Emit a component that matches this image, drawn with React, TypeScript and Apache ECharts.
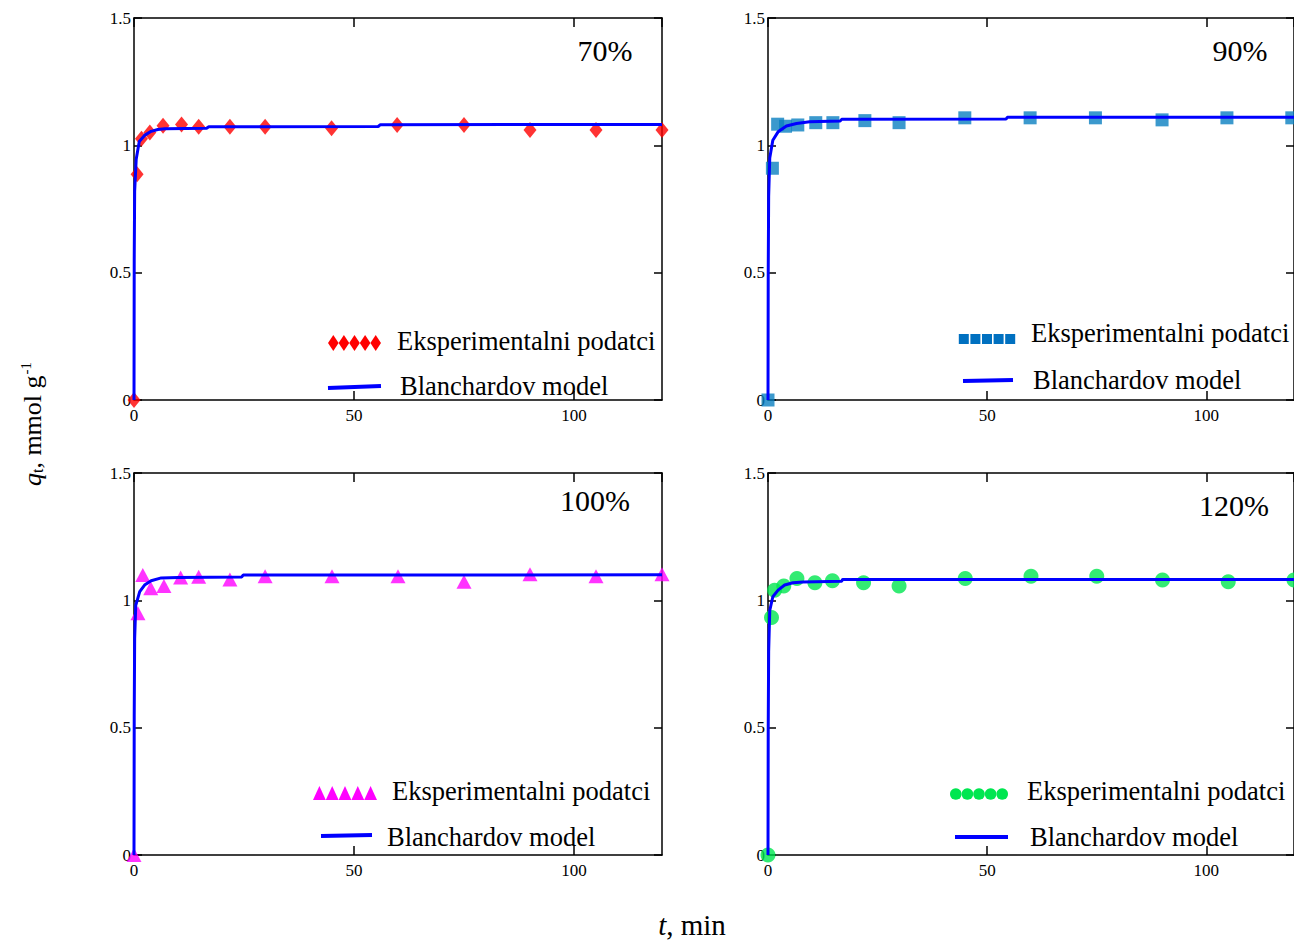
import React, { useEffect, useRef } from "react";
import * as echarts from "echarts";

// ---- Data ----
const panelLabels = ["70%", "90%", "100%", "120%"];
const expName = "Eksperimentalni podatci";
const modelName = "Blanchardov model";
const xTickLabels = ["0", "50", "100"];
const yTickLabels = ["0", "0.5", "1", "1.5"];

// 70 %
const t70 = [0, 0.7, 1.7, 3.6, 6.6, 10.8, 14.7, 21.8, 29.8, 44.9, 59.8, 75, 90, 105, 120];
const q70 = [0, 0.886, 1.026, 1.05, 1.077, 1.082, 1.073, 1.073, 1.073, 1.067, 1.08, 1.08, 1.06, 1.06, 1.06];
const mt70 = [0, 0.05, 0.15, 0.5, 1.2, 2.4, 3.9, 5.4, 7, 16.5, 17, 55.5, 56, 120];
const mq70 = [0, 0.55, 0.82, 0.945, 1.015, 1.039, 1.055, 1.062, 1.065, 1.067, 1.073, 1.074, 1.081, 1.082];

// 90 %
const t90 = [0, 1, 2.2, 4, 6.8, 10.9, 14.8, 22.1, 29.9, 44.9, 59.8, 74.7, 89.9, 104.7, 119.5];
const q90 = [0, 0.91, 1.083, 1.075, 1.08, 1.089, 1.089, 1.097, 1.089, 1.108, 1.108, 1.108, 1.1, 1.108, 1.108];
const mt90 = [0, 0.05, 0.15, 0.4, 1.1, 2.3, 4.2, 6.5, 9.5, 16.5, 16.8, 54.3, 54.6, 120];
const mq90 = [0, 0.5, 0.8, 0.95, 1.02, 1.053, 1.076, 1.086, 1.093, 1.096, 1.102, 1.103, 1.11, 1.11];

// 100 %
const t100 = [0, 0.9, 2, 3.8, 6.8, 10.6, 14.7, 21.8, 29.8, 45, 60, 75, 90, 105, 120];
const q100 = [0, 0.949, 1.099, 1.047, 1.056, 1.09, 1.093, 1.082, 1.095, 1.095, 1.095, 1.073, 1.102, 1.095, 1.102];
const mt100 = [0, 0.05, 0.15, 0.4, 1.3, 2.4, 3.9, 6.2, 10, 24.5, 24.8, 120];
const mq100 = [0, 0.55, 0.85, 0.98, 1.034, 1.06, 1.077, 1.088, 1.09, 1.092, 1.099, 1.1];

// 120 %
const t120 = [0, 0.8, 1.5, 3.6, 6.6, 10.7, 14.7, 21.8, 29.9, 45, 60, 75, 90, 105, 120];
const q120 = [0, 0.933, 1.04, 1.056, 1.086, 1.069, 1.077, 1.069, 1.056, 1.086, 1.095, 1.095, 1.08, 1.073, 1.08];
const mt120 = [0, 0.05, 0.15, 0.4, 1.1, 2.3, 3.8, 5.7, 8, 16.8, 17, 120];
const mq120 = [0, 0.5, 0.8, 0.96, 1.014, 1.04, 1.06, 1.069, 1.072, 1.075, 1.082, 1.082];

const expT = [t70, t90, t100, t120];
const expQ = [q70, q90, q100, q120];
const modT = [mt70, mt90, mt100, mt120];
const modQ = [mq70, mq90, mq100, mq120];

// ---- Styling / layout ----
const FONT = "Liberation Serif";
const W = 1294;
const H = 943;
const GRIDS = [
  { left: 134, top: 18 },
  { left: 768, top: 18 },
  { left: 134, top: 473 },
  { left: 768, top: 473 },
];
const GW = 528;
const GH = 382;
const SYMBOLS = ["diamond", "rect", "triangle", "circle"];
const SYM_SIZE: any[] = [[13, 16], 13, [15, 14], 15];
const COLORS = ["#ff0000", "#0a80c0", "#ff00ff", "#00e650"];
const LEGEND_COLORS = ["#ff0000", "#0070c0", "#ff00ff", "#00e650"];

// legend geometry per panel
const LEG = [
  { mx0: 328, mx1: 381, my: 343, t1x: 397, t1y: 341, lx0: 328, lx1: 381, ly0: 388, ly1: 386, t2x: 400, t2y: 386 },
  { mx0: 958, mx1: 1016, my: 339, t1x: 1031, t1y: 333, lx0: 963, lx1: 1013, ly0: 381, ly1: 380, t2x: 1033, t2y: 380 },
  { mx0: 313, mx1: 377, my: 793, t1x: 392, t1y: 791, lx0: 321, lx1: 372, ly0: 836, ly1: 835, t2x: 387, t2y: 837 },
  { mx0: 950, mx1: 1008, my: 794, t1x: 1027, t1y: 791, lx0: 955, lx1: 1008, ly0: 837, ly1: 837, t2x: 1030, t2y: 837 },
];
const PCT_POS = [
  { x: 605, y: 50 },
  { x: 1240, y: 50 },
  { x: 595, y: 500 },
  { x: 1234, y: 505 },
];

function legendMarkers(i: number): any[] {
  const g = LEG[i];
  const n = 5;
  const step = (g.mx1 - g.mx0) / n;
  const out: any[] = [];
  const color = LEGEND_COLORS[i];
  for (let k = 0; k < n; k++) {
    const cx = g.mx0 + step * (k + 0.5);
    const cy = g.my;
    if (i === 0) {
      out.push({
        type: "polygon",
        shape: { points: [[cx, cy - 8], [cx + step / 2, cy], [cx, cy + 8], [cx - step / 2, cy]] },
        style: { fill: color },
      });
    } else if (i === 1) {
      out.push({
        type: "rect",
        shape: { x: cx - step / 2 + 0.8, y: cy - 5, width: step - 1.6, height: 10 },
        style: { fill: color },
      });
    } else if (i === 2) {
      out.push({
        type: "polygon",
        shape: { points: [[cx, cy - 7], [cx + step / 2, cy + 7], [cx - step / 2, cy + 7]] },
        style: { fill: color },
      });
    } else {
      out.push({
        type: "circle",
        shape: { cx, cy, r: step / 2 },
        style: { fill: color },
      });
    }
  }
  return out;
}

function buildOption() {
  const grid = GRIDS.map((g) => ({ left: g.left, top: g.top, width: GW, height: GH, containLabel: false }));
  const xAxis: any[] = [];
  const yAxis: any[] = [];
  const lineStyle = { color: "#000", width: 1.5 };
  GRIDS.forEach((_, i) => {
    const baseX = {
      type: "value",
      gridIndex: i,
      min: 0,
      max: 120,
      interval: 50,
      splitLine: { show: false },
      axisLine: { show: true, onZero: false, lineStyle },
      axisTick: { show: true, inside: true, length: 9, lineStyle },
    };
    xAxis.push({
      ...baseX,
      position: "bottom",
      axisLabel: {
        show: true,
        color: "#000",
        fontFamily: FONT,
        fontSize: 17,
        margin: 7,
        showMaxLabel: false,
        formatter: (v: number) => {
          const idx = [0, 50, 100].indexOf(v);
          return idx >= 0 ? xTickLabels[idx] : "";
        },
      },
    });
    xAxis.push({ ...baseX, position: "top", axisLabel: { show: false } });
    const baseY = {
      type: "value",
      gridIndex: i,
      min: 0,
      max: 1.5,
      interval: 0.5,
      splitLine: { show: false },
      axisLine: { show: true, onZero: false, lineStyle },
      axisTick: { show: true, inside: true, length: 8, lineStyle },
    };
    yAxis.push({
      ...baseY,
      position: "left",
      axisLabel: {
        show: true,
        color: "#000",
        fontFamily: FONT,
        fontSize: 17,
        margin: 3,
        formatter: (v: number) => {
          const idx = Math.round(v / 0.5);
          return yTickLabels[idx] ?? "";
        },
      },
    });
    yAxis.push({ ...baseY, position: "right", axisLabel: { show: false } });
  });

  const series: any[] = [];
  for (let i = 0; i < 4; i++) {
    series.push({
      type: "scatter",
      name: expName,
      xAxisIndex: 2 * i,
      yAxisIndex: 2 * i,
      symbol: SYMBOLS[i],
      symbolSize: SYM_SIZE[i],
      itemStyle: { color: COLORS[i] },
      data: expT[i].map((t, k) => [t, expQ[i][k]]),
      z: 2,
    });
    series.push({
      type: "line",
      name: modelName,
      xAxisIndex: 2 * i,
      yAxisIndex: 2 * i,
      showSymbol: false,
      symbol: "none",
      lineStyle: { color: "#0000ff", width: 3 },
      data: modT[i].map((t, k) => [t, modQ[i][k]]),
      z: 3,
    });
  }

  const graphic: any[] = [];
  for (let i = 0; i < 4; i++) {
    const g = LEG[i];
    graphic.push(...legendMarkers(i));
    graphic.push({
      type: "text",
      x: g.t1x,
      y: g.t1y,
      style: { text: expName, fontFamily: FONT, fontSize: 26.5, fill: "#000", align: "left", verticalAlign: "middle" },
    });
    graphic.push({
      type: "line",
      shape: { x1: g.lx0, y1: g.ly0, x2: g.lx1, y2: g.ly1 },
      style: { stroke: "#0000ff", lineWidth: 4 },
    });
    graphic.push({
      type: "text",
      x: g.t2x,
      y: g.t2y,
      style: { text: modelName, fontFamily: FONT, fontSize: 26.5, fill: "#000", align: "left", verticalAlign: "middle" },
    });
    graphic.push({
      type: "text",
      x: PCT_POS[i].x,
      y: PCT_POS[i].y,
      style: { text: panelLabels[i], fontFamily: FONT, fontSize: 30, fill: "#000", align: "center", verticalAlign: "middle" },
    });
  }
  // y axis title
  graphic.push({
    type: "text",
    x: 32,
    y: 424,
    rotation: Math.PI / 2,
    style: {
      text: "{q|q}{sub|t}{n|, mmol g}{sup|-1}",
      align: "center",
      verticalAlign: "middle",
      fill: "#000",
      rich: {
        q: { fontFamily: FONT, fontSize: 26, fontStyle: "italic", lineHeight: 32, verticalAlign: "middle" },
        sub: { fontFamily: FONT, fontSize: 16, lineHeight: 32, verticalAlign: "bottom", padding: [0, 0, 3, 0] },
        n: { fontFamily: FONT, fontSize: 26, lineHeight: 32, verticalAlign: "middle" },
        sup: { fontFamily: FONT, fontSize: 15, lineHeight: 32, verticalAlign: "top", padding: [2, 0, 0, 1] },
      },
    },
  });
  // x axis title
  graphic.push({
    type: "text",
    x: 692,
    y: 925,
    style: {
      text: "{i|t}{n|, min}",
      align: "center",
      verticalAlign: "middle",
      fill: "#000",
      rich: {
        i: { fontFamily: FONT, fontSize: 29, fontStyle: "italic" },
        n: { fontFamily: FONT, fontSize: 29 },
      },
    },
  });

  return {
    animation: false,
    backgroundColor: "#fff",
    textStyle: { fontFamily: FONT },
    grid,
    xAxis,
    yAxis,
    series,
    graphic,
  };
}

export default function App() {
  const ref = useRef<HTMLDivElement>(null);
  useEffect(() => {
    if (!ref.current) return;
    const chart = echarts.init(ref.current, undefined, { renderer: "svg", width: W, height: H });
    chart.setOption(buildOption() as any);
    return () => chart.dispose();
  }, []);
  return (
    <div
      ref={ref}
      style={{ position: "absolute", left: 0, top: 0, width: W, height: H, background: "#fff" }}
    />
  );
}
